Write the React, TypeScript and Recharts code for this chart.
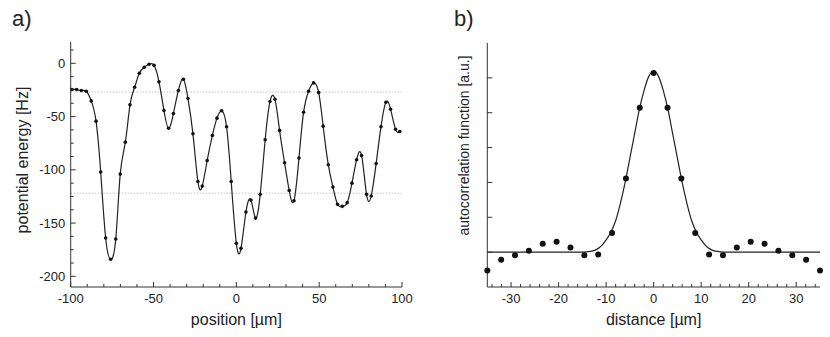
import React from "react";
import {
  ComposedChart,
  LineChart,
  Line,
  Scatter,
  XAxis,
  YAxis,
  ReferenceLine,
} from "recharts";

// panel a) measured potential along the trap
const positions = [
  -99.2, -96.4, -93.6, -90.6, -87.6, -84.7, -81.9, -78.9, -75.9, -72.8,
  -70.1, -67.0, -64.2, -61.4, -58.6, -55.6, -52.7, -49.7, -46.7, -43.7,
  -40.9, -38.0, -35.0, -32.0, -29.2, -26.2, -23.2, -20.6, -17.6, -14.5,
  -11.7, -8.9, -5.9, -3.1, 0.0, 2.8, 5.8, 8.8, 11.6, 14.4,
  17.4, 20.3, 23.3, 26.1, 29.1, 31.9, 34.8, 37.8, 40.6, 43.6,
  46.6, 49.7, 52.4, 55.5, 58.3, 61.1, 63.9, 66.9, 69.8, 72.6,
  75.6, 78.6, 81.4, 84.4, 87.3, 90.3, 93.1, 96.1, 98.7,
];
const energy = [
  -24.6, -24.6, -25.6, -26.2, -35.3, -54.3, -102, -164, -184, -165,
  -104, -74, -39, -22.5, -9.4, -3.7, -0.9, -1.9, -17.4, -44.3,
  -61, -47.2, -25.5, -15, -33.1, -66.2, -111, -115.3, -91.2, -67.8,
  -51.5, -44.6, -59.6, -111, -169, -173.7, -139.6, -128.4, -145.3, -123,
  -71.8, -35.9, -33.7, -63, -93.3, -119.4, -129, -89, -45.9, -26.2,
  -18.4, -27.5, -59, -95.2, -116.2, -132.4, -134.3, -130.8, -112.5, -90.5,
  -86.5, -123, -124.6, -94, -59.6, -36.5, -43.1, -61.9, -64,
];
const guideLevels = [-27, -122];

const aMajorX = [-100, -50, 0, 50, 100];
const aTicksX = [
  -100, -90, -80, -70, -60, -50, -40, -30, -20, -10, 0,
  10, 20, 30, 40, 50, 60, 70, 80, 90, 100,
];
const aMajorY = [-200, -150, -100, -50, 0];
const aTicksY = [
  -200, -187.5, -175, -162.5, -150, -137.5, -125, -112.5, -100, -87.5,
  -75, -62.5, -50, -37.5, -25, -12.5, 0, 12.5,
];

// panel b) autocorrelation
const distance = [
  -35, -32.08, -29.17, -26.25, -23.33, -20.42, -17.5, -14.58, -11.67, -8.75,
  -5.83, -2.92, 0, 2.92, 5.83, 8.75, 11.67, 14.58, 17.5, 20.42,
  23.33, 26.25, 29.17, 32.08, 35,
];
const autocorr = [
  -0.53, -0.22, -0.09, 0.04, 0.24, 0.3, 0.13, -0.09, -0.07, 0.55,
  2.11, 4.14, 5.14, 4.14, 2.11, 0.55, -0.07, -0.09, 0.13, 0.3,
  0.24, 0.04, -0.09, -0.22, -0.53,
];
const fitX = [
  -35, -25, -18, -15, -14, -13, -12, -11, -10, -9, -8, -7, -6, -5, -4, -3, -2, -1,
  0, 1, 2, 3, 4, 5, 6, 7, 8, 9, 10, 11, 12, 13, 14, 15, 18, 25, 35,
];
const fitY = [
  0, 0, 0, 0, 0.01, 0.03, 0.08, 0.18, 0.35, 0.57, 0.9, 1.4, 2.0, 2.7, 3.4, 4.1, 4.65, 5.05,
  5.19, 5.05, 4.65, 4.1, 3.4, 2.7, 2.0, 1.4, 0.9, 0.57, 0.35, 0.18, 0.08, 0.03, 0.01, 0, 0, 0, 0,
];

const bMajorX = [-30, -20, -10, 0, 10, 20, 30];
const bTicksX = [
  -34, -32, -30, -28, -26, -24, -22, -20, -18, -16, -14, -12, -10, -8, -6, -4, -2,
  0, 2, 4, 6, 8, 10, 12, 14, 16, 18, 20, 22, 24, 26, 28, 30, 32, 34,
];
const bTicksY = [0, 1, 2, 3, 4, 5];

const FONT = "'Liberation Sans', Arial, Helvetica, sans-serif";
const INK = "#222";
const FRAME = "#333";

type Side = "bottom" | "top" | "left" | "right";

function makeTick(side: Side, majors: number[], labels: boolean) {
  return (props: any) => {
    const { x, y, payload } = props;
    const v = payload.value as number;
    const major = majors.some((m) => Math.abs(m - v) < 1e-6);
    const len = major ? 5 : 3;
    let line;
    if (side === "bottom") line = <line x1={x} y1={y} x2={x} y2={y - len} />;
    else if (side === "top") line = <line x1={x} y1={y} x2={x} y2={y + len} />;
    else if (side === "left") line = <line x1={x} y1={y} x2={x + len} y2={y} />;
    else line = <line x1={x} y1={y} x2={x - len} y2={y} />;
    let label = null;
    if (labels && major) {
      if (side === "bottom") {
        label = (
          <text x={x} y={y + 16} textAnchor="middle" fontSize={13} fill={INK} fontFamily={FONT}>
            {String(v)}
          </text>
        );
      } else if (side === "left") {
        label = (
          <text x={x - 5.5} y={y + 4.5} textAnchor="end" fontSize={13} fill={INK} fontFamily={FONT}>
            {String(v)}
          </text>
        );
      }
    }
    return (
      <g>
        <g stroke={FRAME} strokeWidth={1}>{line}</g>
        {label}
      </g>
    );
  };
}

function xTitle(text: string) {
  return (props: any) => {
    const vb = props.viewBox;
    return (
      <text x={vb.x + vb.width / 2} y={325} textAnchor="middle" fontSize={16} fill={INK} fontFamily={FONT}>
        {text}
      </text>
    );
  };
}

function yTitle(text: string, x: number, cy: number, size: number, len?: number) {
  return () => (
    <text
      transform={`translate(${x}, ${cy}) rotate(-90)`}
      textAnchor="middle"
      fontSize={size}
      fill={INK}
      fontFamily={FONT}
      textLength={len}
      lengthAdjust={len ? "spacingAndGlyphs" : undefined}
    >
      {text}
    </text>
  );
}

const axisLine = { stroke: FRAME, strokeWidth: 1 };

function PanelA() {
  const data = positions.map((x, i) => ({ x, e: energy[i] }));
  return (
    <LineChart width={418} height={337} data={data} margin={{ top: 42, right: 16, bottom: 20, left: 0 }}>
      <XAxis
        xAxisId="b"
        type="number"
        dataKey="x"
        domain={[-100, 100]}
        ticks={aTicksX}
        interval={0}
        height={30}
        tickSize={0}
        tickMargin={0}
        tickLine={false}
        axisLine={axisLine}
        tick={makeTick("bottom", aMajorX, true)}
        label={{ content: xTitle("position [µm]") }}
      />
      <XAxis
        xAxisId="t"
        orientation="top"
        type="number"
        domain={[-100, 100]}
        allowDataOverflow
        ticks={aTicksX}
        interval={0}
        height={0}
        tickSize={0}
        tickMargin={0}
        tickLine={false}
        axisLine={axisLine}
        tick={makeTick("top", aMajorX, false)}
      />
      <YAxis
        yAxisId="l"
        type="number"
        domain={[-210, 20]}
        ticks={aTicksY}
        interval={0}
        width={70.7}
        tickSize={0}
        tickMargin={0}
        tickLine={false}
        axisLine={axisLine}
        tick={makeTick("left", aMajorY, true)}
        label={{ content: yTitle("potential energy [Hz]", 28, 160, 16) }}
      />
      <YAxis
        yAxisId="r"
        orientation="right"
        type="number"
        domain={[-210, 20]}
        allowDataOverflow
        ticks={aTicksY}
        interval={0}
        width={0}
        tickSize={0}
        tickMargin={0}
        tickLine={false}
        axisLine={axisLine}
        tick={makeTick("right", aMajorY, false)}
      />
      {guideLevels.map((g) => (
        <ReferenceLine
          key={g}
          xAxisId="b"
          yAxisId="l"
          y={g}
          stroke="#aaa"
          strokeDasharray="1 2"
          strokeWidth={1}
        />
      ))}
      <Line
        xAxisId="b"
        yAxisId="l"
        type="natural"
        dataKey="e"
        stroke={INK}
        strokeWidth={1.2}
        dot={{ r: 1.8, fill: "#111", stroke: "none" }}
        activeDot={false}
        isAnimationActive={false}
      />
    </LineChart>
  );
}

function PanelB() {
  const points = distance.map((x, i) => ({ x, y: autocorr[i] }));
  const fit = fitX.map((x, i) => ({ x, y: fitY[i] }));
  return (
    <ComposedChart width={410} height={337} margin={{ top: 43, right: 10, bottom: 20, left: 0 }}>
      <XAxis
        xAxisId="b"
        type="number"
        dataKey="x"
        domain={[-35, 35]}
        ticks={bTicksX}
        interval={0}
        height={30}
        tickSize={0}
        tickMargin={0}
        tickLine={false}
        axisLine={axisLine}
        tick={makeTick("bottom", bMajorX, true)}
        label={{ content: xTitle("distance [µm]") }}
      />
      <XAxis
        xAxisId="t"
        orientation="top"
        type="number"
        domain={[-35, 35]}
        allowDataOverflow
        ticks={bTicksX}
        interval={0}
        height={0}
        tickSize={0}
        tickMargin={0}
        tickLine={false}
        axisLine={axisLine}
        tick={makeTick("top", bMajorX, false)}
      />
      <YAxis
        yAxisId="l"
        type="number"
        dataKey="y"
        domain={[-1, 6]}
        ticks={bTicksY}
        interval={0}
        width={67.3}
        tickSize={0}
        tickMargin={0}
        tickLine={false}
        axisLine={axisLine}
        tick={makeTick("left", bTicksY, false)}
        label={{ content: yTitle("autocorrelation function [a.u.]", 469 - 420, 145.5, 15, 180) }}
      />
      <YAxis
        yAxisId="r"
        orientation="right"
        type="number"
        domain={[-1, 6]}
        allowDataOverflow
        ticks={bTicksY}
        interval={0}
        width={0}
        tickSize={0}
        tickMargin={0}
        tickLine={false}
        axisLine={axisLine}
        tick={makeTick("right", bTicksY, false)}
      />
      <Line
        xAxisId="b"
        yAxisId="l"
        data={fit}
        type="monotone"
        dataKey="y"
        stroke={INK}
        strokeWidth={1.2}
        dot={false}
        activeDot={false}
        isAnimationActive={false}
      />
      <Scatter
        xAxisId="b"
        yAxisId="l"
        data={points}
        dataKey="y"
        isAnimationActive={false}
        shape={(p: any) => <circle cx={p.cx} cy={p.cy} r={3} fill="#111" />}
      />
    </ComposedChart>
  );
}

const panelLetter: React.CSSProperties = {
  position: "absolute",
  top: 8,
  fontFamily: FONT,
  fontSize: 22,
  lineHeight: "22px",
  color: INK,
};

export default function App() {
  return (
    <div style={{ position: "absolute", left: 0, top: 0, width: 830, height: 337, background: "#fff", overflow: "hidden" }}>
      <div style={{ ...panelLetter, left: 12 }}>a)</div>
      <div style={{ ...panelLetter, left: 454 }}>b)</div>
      <div style={{ position: "absolute", left: 0, top: 0 }}>
        <PanelA />
      </div>
      <div style={{ position: "absolute", left: 420, top: 0 }}>
        <PanelB />
      </div>
    </div>
  );
}
